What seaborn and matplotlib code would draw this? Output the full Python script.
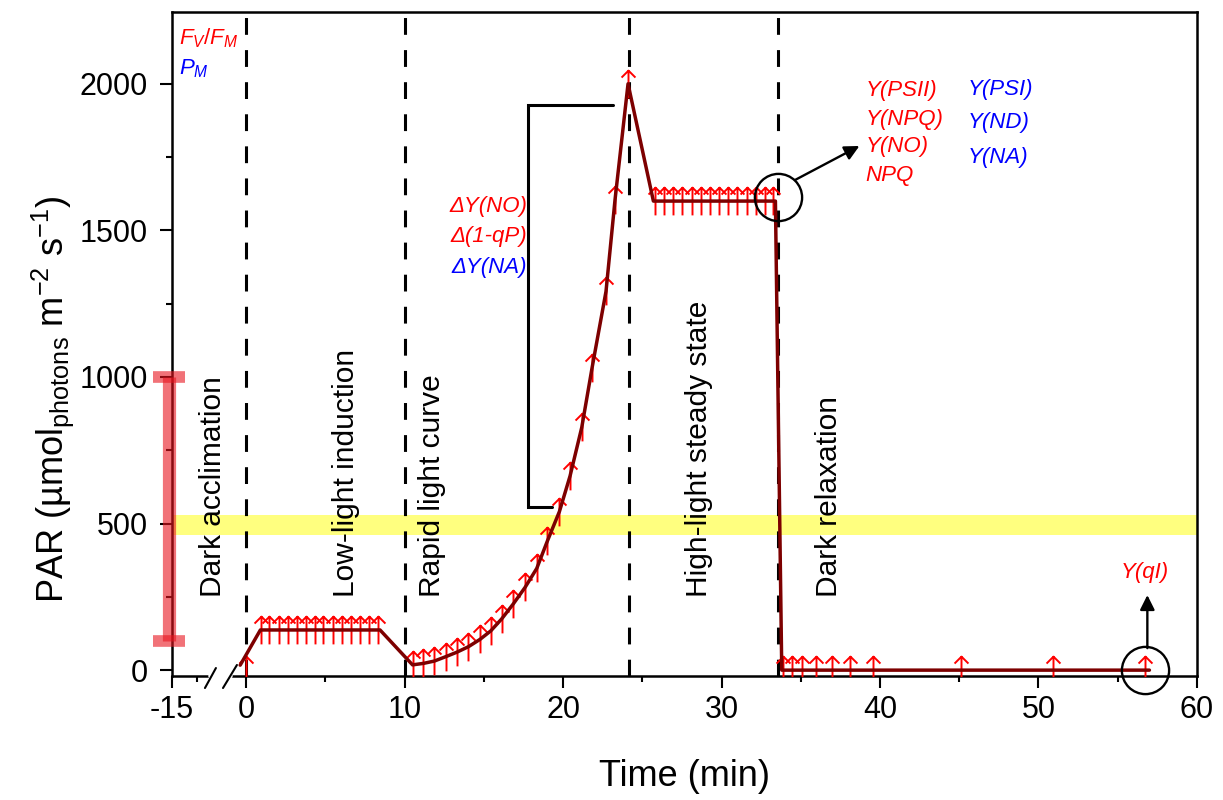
import numpy as np
import matplotlib
matplotlib.use("Agg")
import matplotlib.pyplot as plt
from matplotlib.path import Path
from matplotlib.lines import Line2D
import seaborn as sns

# ---- data (time in min, PAR in umol photons m-2 s-1) ----
# PAR protocol line (dark red)
ramp_t = [-1.2, 0.9, 8.45, 10.5]
ramp_par = [17, 137, 137, 18]
rlc_t = [10.56, 11.19, 11.88, 12.6, 13.29, 14.03, 14.76, 15.44, 16.13, 16.86,
         17.6, 18.34, 19.0, 19.77, 20.44, 21.18, 21.83, 22.71, 23.28, 24.1]
rlc_par = [18, 23, 31, 46, 61, 80, 105, 134, 175, 226,
           282, 347, 439, 541, 662, 828, 1031, 1292, 1605, 2000]
tail_t = [25.7, 33.4, 33.8, 57.0]
tail_par = [1600, 1600, 0, 0]

# saturating pulses (red arrows)
pulse_dark_t = [0.0]
pulse_dark_par = [0]
pulse_low_t = [0.93, 1.47, 2.06, 2.63, 3.20, 3.77, 4.33, 4.88, 5.47, 6.04, 6.61, 7.19, 7.78, 8.35]
pulse_low_par = [137, 137, 137, 137, 137, 137, 137, 137, 137, 137, 137, 137, 137, 137]
pulse_high_t = [25.8, 26.37, 26.96, 27.53, 28.12, 28.69, 29.27, 29.84, 30.43, 31.0, 31.59, 32.16, 32.74, 33.27]
pulse_high_par = [1600, 1600, 1600, 1600, 1600, 1600, 1600, 1600, 1600, 1600, 1600, 1600, 1600, 1600]
pulse_relax_t = [33.85, 34.46, 35.1, 35.96, 36.95, 38.1, 39.57, 45.1, 50.9, 56.7]
pulse_relax_par = [0, 0, 0, 0, 0, 0, 0, 0, 0, 0]

# phases
phase_names = ["Dark acclimation", "Low-light induction", "Rapid light curve",
               "High-light steady state", "Dark relaxation"]
phase_label_t = [-6.6, 6.3, 11.75, 28.6, 36.8]
phase_bounds = [0, 10, 24.15, 33.55]

# growth light range and reference level
growth_par_low, growth_par_high = 100, 1000
ref_band = (461, 529)

# highlighted points and annotation texts
circle_t = [33.59, 56.75]
circle_par = [1614, 0]
delta_labels = ["\u0394Y(NO)", "\u0394(1-qP)", "\u0394Y(NA)"]
delta_colors = ["red", "red", "blue"]
delta_par = [1580, 1478, 1375]
psii_labels = ["Y(PSII)", "Y(NPQ)", "Y(NO)", "NPQ"]
psii_par = [1976, 1880, 1785, 1686]
psi_labels = ["Y(PSI)", "Y(ND)", "Y(NA)"]
psi_par = [1980, 1867, 1747]

line_t = ramp_t + rlc_t[1:] + tail_t
line_par = ramp_par + rlc_par[1:] + tail_par
pulse_t = pulse_dark_t + pulse_low_t + rlc_t + pulse_high_t + pulse_relax_t
pulse_par = pulse_dark_par + pulse_low_par + rlc_par + pulse_high_par + pulse_relax_par

# ---- style ----
sns.set_theme(style="ticks")
plt.rcParams['font.family'] = ['Liberation Sans', 'DejaVu Sans']
plt.rcParams['mathtext.fontset'] = 'custom'
plt.rcParams['mathtext.rm'] = 'Liberation Sans'
plt.rcParams['mathtext.it'] = 'Liberation Sans:italic'
plt.rcParams['mathtext.default'] = 'regular'
plt.rcParams['axes.unicode_minus'] = False
plt.rcParams['text.color'] = 'black'
plt.rcParams['axes.labelcolor'] = 'black'

fig = plt.figure(figsize=(12.23, 8), dpi=100)
ax = fig.add_axes([0.1406, 0.155, 0.8381, 0.83])

# compressed negative time axis (broken axis look)
k = 0.312
ax.set_xscale('function', functions=(lambda x: np.where(x < 0, x * k, x),
                                     lambda x: np.where(x < 0, x / k, x)))

ax.axhspan(*ref_band, color='#ffff00', alpha=0.5, lw=0, zorder=1)
for xb in phase_bounds:
    ax.axvline(xb, color='black', lw=2.2, dashes=(5.5, 5), zorder=2)

arrow = Path([(0, -1), (0, 1), (-0.5, 0.5), (0, 1), (0.5, 0.5)],
             [Path.MOVETO, Path.LINETO, Path.MOVETO, Path.LINETO, Path.LINETO])
ax.plot(pulse_t, pulse_par, ls='none', marker=arrow, ms=20, mfc='none',
        mec='#ff0000', mew=1.4, zorder=3)
sns.lineplot(x=line_t, y=line_par, ax=ax, color='#7d0000', lw=2.5, sort=False,
             estimator=None, zorder=4)

# growth light range
mid = (growth_par_low + growth_par_high) / 2
ax.errorbar([-15.6], [mid], yerr=[[mid - growth_par_low], [growth_par_high - mid]], fmt='none',
            ecolor='#e8141e', alpha=0.6, elinewidth=9.5, capsize=11.5, capthick=8.4,
            clip_on=False, zorder=5)

# bracket for delta parameters
ax.plot([23.17, 17.81, 17.81, 19.29], [1928, 1928, 557, 557], color='black', lw=2.2,
        solid_joinstyle='miter', zorder=4)

# circles and arrows
ax.plot(circle_t, circle_par, ls='none', marker='o', ms=34, mfc='none', mec='black',
        mew=1.7, clip_on=False, zorder=6)
ax.annotate('', xy=(38.7, 1788), xytext=(34.64, 1672),
            arrowprops=dict(arrowstyle='-|>', color='black', lw=1.7, mutation_scale=22,
                            shrinkA=0, shrinkB=0))
ax.annotate('', xy=(56.87, 256), xytext=(56.87, 75),
            arrowprops=dict(arrowstyle='-|>', color='black', lw=1.7, mutation_scale=22,
                            shrinkA=0, shrinkB=0))

# phase labels
for name, xt in zip(phase_names, phase_label_t):
    ax.text(xt, 250, name, rotation=90, ha='center', va='bottom', fontsize=21.5,
            color='black')

# parameter labels
fs = 16
ax.text(-13.6, 2157, r'$\mathit{F}_\mathit{V}/\mathit{F}_\mathit{M}$', color='red',
        fontsize=fs, ha='left', va='center')
ax.text(-13.6, 2050, r'$\mathit{P}_\mathit{M}$', color='blue', fontsize=fs,
        ha='left', va='center')
for lab, c, yv in zip(delta_labels, delta_colors, delta_par):
    ax.text(17.73, yv, lab, color=c, fontsize=fs, style='italic', ha='right', va='center')
for lab, yv in zip(psii_labels, psii_par):
    ax.text(39.1, yv, lab, color='red', fontsize=fs, style='italic', ha='left', va='center')
for lab, yv in zip(psi_labels, psi_par):
    ax.text(45.55, yv, lab, color='blue', fontsize=fs, style='italic', ha='left', va='center')
ax.text(56.7, 334, 'Y(qI)', color='red', fontsize=fs, style='italic', ha='center', va='center')

# axes
ax.set_xlim(-15, 60)
ax.set_ylim(-20, 2245)
ax.set_xticks([-15, 0, 10, 20, 30, 40, 50, 60])
ax.set_xticks([-10, 5, 15, 25, 35, 45, 55], minor=True)
ax.set_yticks([0, 500, 1000, 1500, 2000])
ax.set_yticks([250, 750, 1250, 1750], minor=True)
ax.tick_params(which='major', direction='out', length=8.6, width=1.5, labelsize=22,
               color='black', labelcolor='black')
ax.tick_params(axis='x', which='major', pad=5)
ax.tick_params(axis='y', which='major', pad=9)
ax.tick_params(which='minor', direction='out', length=4.5, width=1.5, color='black')
for s in ax.spines.values():
    s.set_visible(True)
    s.set_linewidth(1.8)
    s.set_color('black')
ax.set_xlabel('Time (min)', fontsize=26)
ax.set_ylabel('PAR (\u00b5mol$_{\\mathrm{photons}}$ m$^{-2}$ s$^{-1}$)', fontsize=26)
ax.xaxis.set_label_coords(0.5, -0.125)
ax.yaxis.set_label_coords(-0.094, 0.416)

# axis break marks
ax.plot([0.038, 0.0566], [0, 0], transform=ax.transAxes, color='white', lw=4,
        clip_on=False, zorder=7)
for x0, x1, y1 in [(0.0322, 0.0429, 0.012), (0.0498, 0.0634, 0.0166)]:
    ax.add_line(Line2D([x0, x1], [-0.0181, y1], transform=ax.transAxes, color='black',
                       lw=1.5, clip_on=False, zorder=8))

fig.savefig('out.png', dpi=100)
